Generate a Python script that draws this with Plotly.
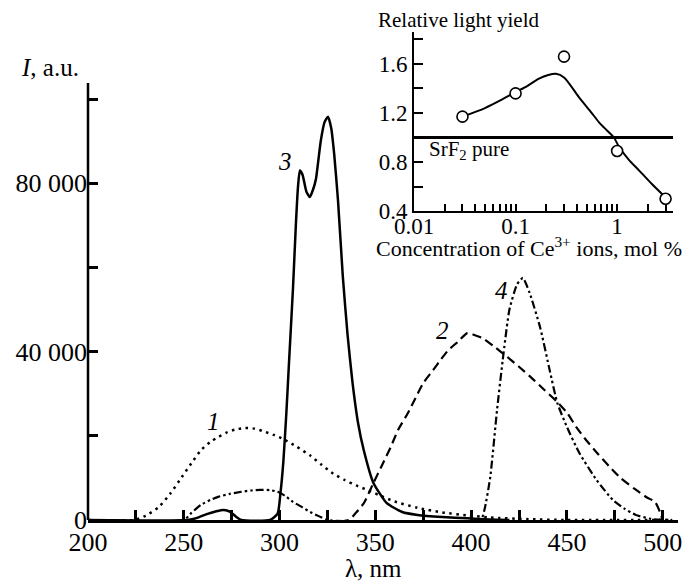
import plotly.graph_objects as go
import math

# ---------------- data ----------------
# curve 1 (dotted)
wl1 = [200, 224, 230, 237, 243, 249, 254, 259, 264, 268, 272, 277, 282, 287, 292, 297, 302, 309, 316,
       322, 328, 334, 340, 346, 352, 360, 372, 385, 398, 410, 430, 450, 505]
i1 = [0, 0, 1000, 3100, 6300, 10200, 13500, 16600, 18600, 19700, 20700, 21500, 21850, 21700, 21000,
      20200, 19200, 17400, 15300, 13100, 11000, 9500, 8200, 7100, 5900, 4400, 2900, 1800, 1100, 600,
      200, 0, 0]

# curve 2 (dashed)
wl2 = [200, 336, 340, 344, 349, 354, 358, 362, 367, 371, 375, 380, 384, 388, 393, 398, 402, 406, 412,
       419, 425, 431, 438, 445, 450, 455, 460, 466, 472, 478, 485, 492, 496, 498.5, 500]
i2 = [0, 0, 1800, 4000, 8800, 13500, 17300, 21500, 25400, 29000, 32500, 35500, 38000, 40300, 42300,
      44400, 43900, 43200, 41200, 38700, 36400, 34000, 31000, 28000, 25500, 22000, 19000, 15800, 12800,
      10000, 7500, 5300, 4300, 2000, 0]

# curve 3 (solid)
wl3 = [200, 252, 257, 262, 267, 271, 274, 277, 280, 295, 299, 300.5, 302, 303.5, 305, 307, 308.5, 309.6,
       310.6, 312, 314, 315.8, 317.5, 319, 321.5, 323.5, 325.3, 327, 328.5, 330.5, 333, 335.5, 338, 341,
       344, 349, 356, 364, 372, 385, 398, 410, 420]
i3 = [0, 0, 500, 1400, 2100, 2400, 2000, 900, 0, 0, 1500, 6500, 14000, 25000, 38000, 55000, 70000, 79000,
      83000, 82000, 78000, 76700, 78500, 81000, 90000, 94500, 95800, 93000, 87000, 76000, 58000, 44000,
      33000, 23000, 16500, 8800, 4000, 1900, 1200, 700, 400, 100, 0]

# curve 4 (dash-dot-dot)
wl4 = [200, 250, 254, 259, 264, 268, 274, 280, 285, 290, 295, 299, 303, 307, 312, 316, 321, 325, 405,
       407, 410, 413.5, 416.5, 420, 424, 427, 430.5, 436, 441, 445, 450, 456.5, 465.5, 474, 480, 486,
       494, 505]
i4 = [0, 0, 1700, 3600, 4800, 5500, 6200, 6700, 7000, 7150, 7100, 6700, 5700, 4300, 3000, 1900, 800, 0, 0,
      2500, 10200, 26000, 38000, 50000, 56000, 57500, 54000, 45800, 35600, 27800, 22100, 15900, 9500,
      4750, 2700, 1200, 250, 0]

# inset: relative light yield vs Ce3+ concentration
conc = [0.03, 0.1, 0.3, 1.0, 3.0]
rel_yield = [1.17, 1.36, 1.66, 0.89, 0.50]
fit_conc = [0.03, 0.05, 0.07, 0.1, 0.13, 0.17, 0.21, 0.25, 0.3, 0.42, 0.55, 0.67, 0.8, 0.93, 1.05,
            1.3, 1.65, 2.2, 3.0]
fit_yield = [1.17, 1.24, 1.30, 1.37, 1.42, 1.48, 1.51, 1.52, 1.49, 1.33, 1.21, 1.12, 1.055, 1.0, 0.92,
             0.82, 0.73, 0.62, 0.51]
pure_level = 1.0

main_xticks = list(range(200, 501, 25))
main_xtext = [str(v) if v % 50 == 0 else "" for v in main_xticks]
main_yticks = [0, 20000, 40000, 60000, 80000, 100000]
main_ytext = ["0", "", "40 000", "", "80 000", ""]
inset_xticks = [0.01 * k for k in range(1, 10)] + [0.1 * k for k in range(1, 10)] + [1, 2, 3]
inset_xtext = ["0.01"] + [""] * 8 + ["0.1"] + [""] * 8 + ["1", "", ""]
inset_yticks = [0.4, 0.6, 0.8, 1.0, 1.2, 1.4, 1.6, 1.8]
inset_ytext = ["0.4", "", "0.8", "", "1.2", "", "1.6", ""]

# ---------------- figure ----------------
W, H = 696, 581
L, R, T, B = 88, 18, 32, 61
PW, PH = W - L - R, H - T - B
FONT = "Liberation Serif, Times New Roman, serif"


def px_x(px):
    return (px - L) / PW


def px_y(py):
    return (H - B - py) / PH


fig = go.Figure()
common = dict(mode="lines", hoverinfo="skip", showlegend=False)
fig.add_trace(go.Scatter(x=wl1, y=i1, line=dict(color="black", width=2.5, dash="2.5px,4.5px",
                                                   shape="spline", smoothing=0.6), **common))
fig.add_trace(go.Scatter(x=wl2, y=i2, line=dict(color="black", width=2.2, dash="9px,5px",
                                                   shape="spline", smoothing=0.6), **common))
fig.add_trace(go.Scatter(x=wl4, y=i4, line=dict(color="black", width=2.2,
                                                   dash="8px,3px,2.5px,3px,2.5px,3px",
                                                   shape="spline", smoothing=0.5), **common))
fig.add_trace(go.Scatter(x=wl3, y=i3, line=dict(color="black", width=2.5,
                                                   shape="spline", smoothing=0.5), **common))

fig.add_trace(go.Scatter(x=fit_conc, y=fit_yield, xaxis="x2", yaxis="y2",
                         line=dict(color="black", width=2, shape="spline", smoothing=0.8), **common))
fig.add_trace(go.Scatter(x=conc, y=rel_yield, xaxis="x2", yaxis="y2", mode="markers",
                         marker=dict(symbol="circle", size=11, color="white",
                                     line=dict(color="black", width=1.6)),
                         hoverinfo="skip", showlegend=False))

y_top = (H - B - T) / (421 / 100000)  # 100000 sits 421 px above zero

fig.update_layout(
    width=W, height=H, margin=dict(l=L, r=R, t=T, b=B),
    paper_bgcolor="white", plot_bgcolor="white",
    font=dict(family=FONT, color="black", size=20),
    xaxis=dict(range=[200, 508], showline=True, linewidth=2.5, linecolor="black",
               ticks="inside", ticklen=10, tickwidth=2.5, tickcolor="black",
               tickvals=main_xticks, ticktext=main_xtext, tickfont=dict(size=26),
               ticklabelstandoff=-3,
               showgrid=False, zeroline=False, anchor="y"),
    yaxis=dict(range=[0, y_top], showline=False, ticks="inside", ticklen=10, tickwidth=2.5,
               tickcolor="black", tickvals=main_yticks, ticktext=main_ytext,
               tickfont=dict(size=26), showgrid=False, zeroline=False, anchor="x"),
    xaxis2=dict(type="log", range=[-2, math.log10(3.55)], domain=[px_x(414), px_x(673)],
                anchor="y2", showline=True, linewidth=2, linecolor="black",
                ticks="inside", ticklen=7, tickwidth=2, tickcolor="black",
                tickvals=inset_xticks, ticktext=inset_xtext, tickfont=dict(size=23),
                ticklabelstandoff=-7,
                showgrid=False, zeroline=False),
    yaxis2=dict(range=[0.4, 1.861], domain=[px_y(211), 1], anchor="x2",
                showline=True, linewidth=2, linecolor="black",
                ticks="inside", ticklen=9, tickwidth=2, tickcolor="black",
                tickvals=inset_yticks, ticktext=inset_ytext, tickfont=dict(size=23),
                showgrid=False, zeroline=False),
)

# main y axis line (ends a little above the last tick)
fig.add_shape(type="line", xref="paper", yref="y", x0=0, x1=0, y0=0, y1=103800,
              line=dict(color="black", width=2.5))
# SrF2 pure reference level in the inset
fig.add_shape(type="line", xref="x2 domain", yref="y2", x0=0, x1=1, y0=pure_level, y1=pure_level,
              line=dict(color="black", width=3))

ann = []


def add_text(text, px, py, size, xanchor="center"):
    ann.append(dict(text=text, x=px_x(px), y=px_y(py), xref="paper", yref="paper",
                    xanchor=xanchor, yanchor="middle", showarrow=False,
                    font=dict(size=size, family=FONT, color="black")))


add_text("<i>I</i>, a.u.", 50, 67, 25)
add_text("λ, nm", 373, 568, 25)
add_text("<i>1</i>", 213, 421, 25)
add_text("<i>2</i>", 443, 331, 25)
add_text("<i>3</i>", 285, 161, 25)
add_text("<i>4</i>", 501, 290, 25)
add_text("Relative light yield", 376, 20, 21, "left")
add_text("Concentration of Ce<sup>3+</sup> ions, mol %", 374, 247, 22, "left")
add_text("SrF<sub>2</sub> pure", 427, 150, 21, "left")
fig.update_layout(annotations=ann)

fig.write_html("out.html")
